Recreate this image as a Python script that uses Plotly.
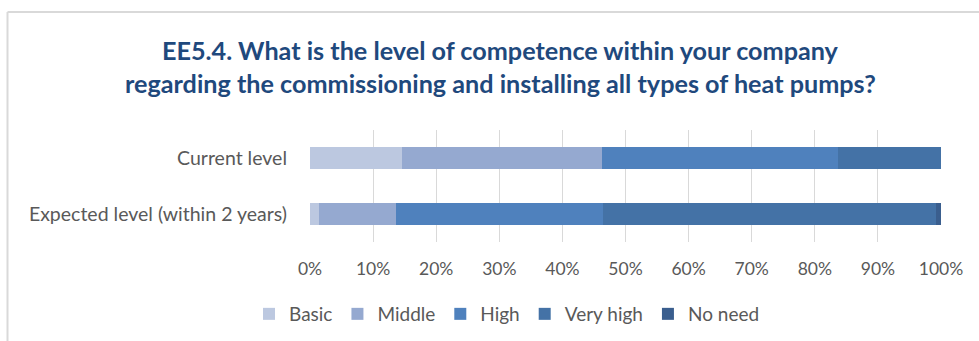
import plotly.graph_objects as go

categories = ["Current level", "Expected level (within 2 years)"]
series_names = ["Basic", "Middle", "High", "Very high", "No need"]
basic = [14.6, 1.4]
middle = [31.7, 12.2]
high = [37.3, 32.9]
very_high = [16.4, 52.7]
no_need = [0.0, 0.8]
tick_vals = [0, 10, 20, 30, 40, 50, 60, 70, 80, 90, 100]
tick_text = ["0%", "10%", "20%", "30%", "40%", "50%", "60%", "70%", "80%", "90%", "100%"]
title_lines = [
    "EE5.4. What is the level of competence within your company",
    "regarding the commissioning and installing all types of heat pumps?",
]

colors = ["#BCC8E0", "#95A9D0", "#4F81BD", "#4472A6", "#3A5E8E"]
values = [basic, middle, high, very_high, no_need]

W, H = 979, 341
L, R, T, B = 310, 941, 130, 242

def px(x):
    return (x - L) / (R - L)

def py(y):
    return (B - y) / (B - T)

FONT = "Lato"
GRAY = "#595959"

fig = go.Figure()
for name, vals, col in zip(series_names, values, colors):
    fig.add_trace(go.Bar(
        y=categories, x=vals, name=name, orientation="h",
        marker=dict(color=col, line=dict(width=0)),
    ))

fig.update_layout(
    width=W, height=H,
    barmode="stack",
    bargap=0.6,
    margin=dict(l=L, r=W - R, t=T, b=H - B, pad=0, autoexpand=False),
    paper_bgcolor="white", plot_bgcolor="white",
    font=dict(family=FONT, color=GRAY, size=16),
    showlegend=True,
    legend=dict(
        orientation="h", x=px(507), xanchor="center",
        y=8 / H, yref="container", yanchor="bottom",
        font=dict(family=FONT, size=19, color=GRAY),
        traceorder="normal",
        itemwidth=30,
        bgcolor="rgba(0,0,0,0)",
    ),
    xaxis=dict(
        range=[0, 100], tickvals=tick_vals, ticktext=tick_text,
        showgrid=True, gridcolor="#D9D9D9", gridwidth=1,
        zeroline=False, showline=False, ticks="",
        tickfont=dict(family=FONT, size=17.5, color=GRAY),
        ticklabelstandoff=14,
        fixedrange=True,
    ),
    yaxis=dict(
        autorange="reversed",
        showgrid=False, zeroline=False, showline=False, ticks="",
        tickfont=dict(family=FONT, size=19.5, color=GRAY),
        ticklabelstandoff=22,
        fixedrange=True,
    ),
    shapes=[
        dict(type="line", xref="paper", yref="paper",
             x0=px(7.5), x1=px(1000), y0=py(12), y1=py(12),
             line=dict(color="#D9D9D9", width=2)),
        dict(type="line", xref="paper", yref="paper",
             x0=px(7.5), x1=px(7.5), y0=py(12), y1=py(360),
             line=dict(color="#D9D9D9", width=2)),
    ],
    annotations=[
        dict(text="<b>%s</b>" % title_lines[0], xref="paper", yref="paper",
             x=px(500), y=py(50), xanchor="center", yanchor="middle",
             showarrow=False, font=dict(family=FONT, size=25.2, color="#1F497D")),
        dict(text="<b>%s</b>" % title_lines[1], xref="paper", yref="paper",
             x=px(500), y=py(83), xanchor="center", yanchor="middle",
             showarrow=False, font=dict(family=FONT, size=25.2, color="#1F497D")),
    ],
)

fig.write_html("out.html", config={"displayModeBar": False},
               post_script="document.body.style.margin='0px';")
